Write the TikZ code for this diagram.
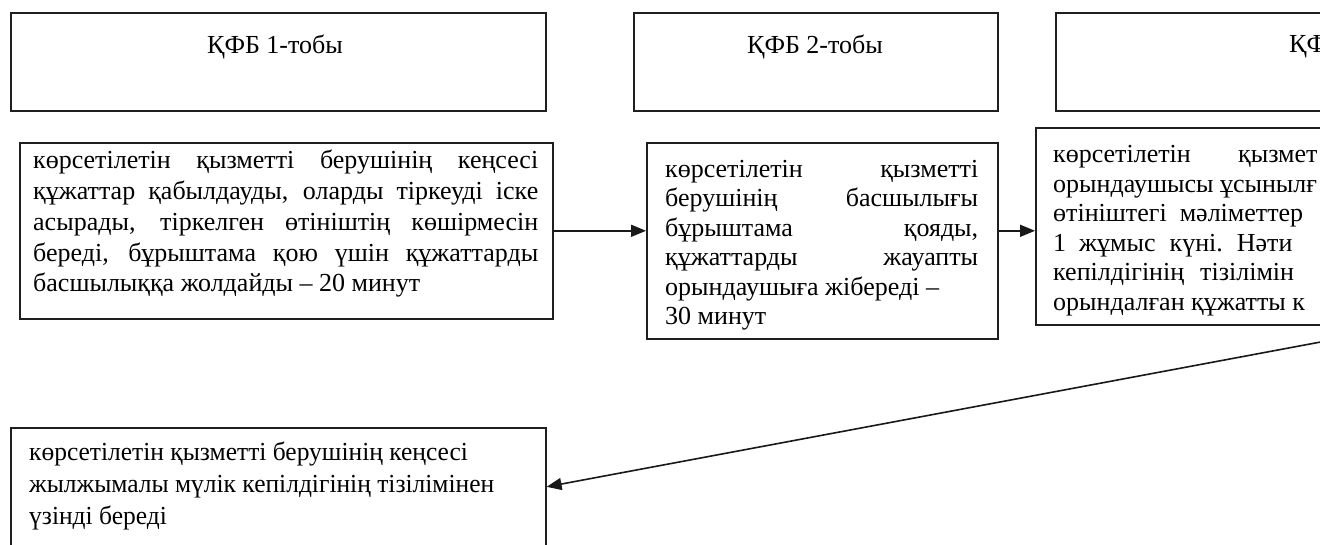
\documentclass[tikz,border=0pt]{standalone}
\usepackage{fontspec}
\setmainfont{Liberation Serif}
\newfontfamily\condfont[FakeStretch=0.98]{Liberation Serif}
\usetikzlibrary{arrows.meta,calc}
\begin{document}
\begin{tikzpicture}[x=1pt,y=-1pt,
  box/.style={draw=black!88,line width=1.6pt,rectangle,inner sep=0pt,anchor=north west},
  ttl/.style={inner sep=0pt,font=\fontsize{26}{30}\selectfont},
  txtd/.style={inner sep=0pt,anchor=north west,align=justify,font=\fontsize{26}{30.75}\selectfont},
  txte/.style={inner sep=0pt,anchor=north west,align=justify,font=\fontsize{26}{29.5}\selectfont},
  txtf/.style={inner sep=0pt,anchor=north west,align=left,font=\fontsize{26}{29.6}\selectfont},
  txtg/.style={inner sep=0pt,anchor=north west,align=left,font=\condfont\fontsize{26}{32}\selectfont},
  conn/.style={line width=1.6pt,draw=black!90,-{Triangle[length=15pt,width=12pt]}}]
\useasboundingbox (0,0) rectangle (1320,544);
\clip (0,0) rectangle (1320,544);
\fill[white] (0,0) rectangle (1320,544);
% title boxes
\node[box,minimum width=535pt,minimum height=98pt] (A) at (10,12) {};
\node[ttl] (At) at (275,47) {ҚФБ 1-тобы};
\node[box,minimum width=364pt,minimum height=98pt] (B) at (633,12) {};
\node[ttl] (Bt) at (815,47) {ҚФБ 2-тобы};
\node[box,minimum width=600pt,minimum height=98pt] (C) at (1055,12) {};
\node[ttl,anchor=west] (Ct) at (1289,47) {ҚФ};
% step boxes
\node[box,minimum width=533pt,minimum height=176pt] (D) at (19,142) {};
\node[txtd,text width=505pt] (Dt) at (33,150) {көрсетілетін қызметті берушінің кеңсесі\linebreak
құжаттар қабылдауды, оларды тіркеуді іске\linebreak
асырады, тіркелген өтініштің көшірмесін\linebreak
береді, бұрыштама қою үшін құжаттарды\linebreak
басшылыққа жолдайды – 20 минут};
\node[box,minimum width=351pt,minimum height=196pt] (E) at (646,142) {};
\node[txte,text width=313pt] (Et) at (665,160) {көрсетілетін қызметті\linebreak
берушінің басшылығы\linebreak
бұрыштама қояды,\linebreak
құжаттарды жауапты\linebreak
орындаушыға жібереді –\newline
30 минут};
\node[box,minimum width=745pt,minimum height=197pt] (F) at (1035,127) {};
\node[txtf] (Ft) at (1053,145) {\makebox[185pt][l]{көрсетілетін}қызмет\\
орындаушысы ұсынылғ\\
өтініштегі\hspace{13pt}мәліметтер\\
1\hspace{13pt}жұмыс\hspace{14pt}күні.\hspace{14pt}Нәти\\
\makebox[147pt][l]{кепілдігінің}тізілімін\\
орындалған құжатты к};
\node[box,minimum width=535pt,minimum height=118pt] (G) at (10,427) {};
\node[txtg] (Gt) at (29,442) {көрсетілетін қызметті берушінің кеңсесі\\
жылжымалы мүлік кепілдігінің тізілімінен\\
үзінді береді};
% connectors
\draw[conn] (D.east) -- (D.east -| E.west);
\draw[conn] (D.east -| E.east) -- (D.east -| F.west);
\draw[conn] (F.south) -- (G.east);
\end{tikzpicture}
\end{document}
